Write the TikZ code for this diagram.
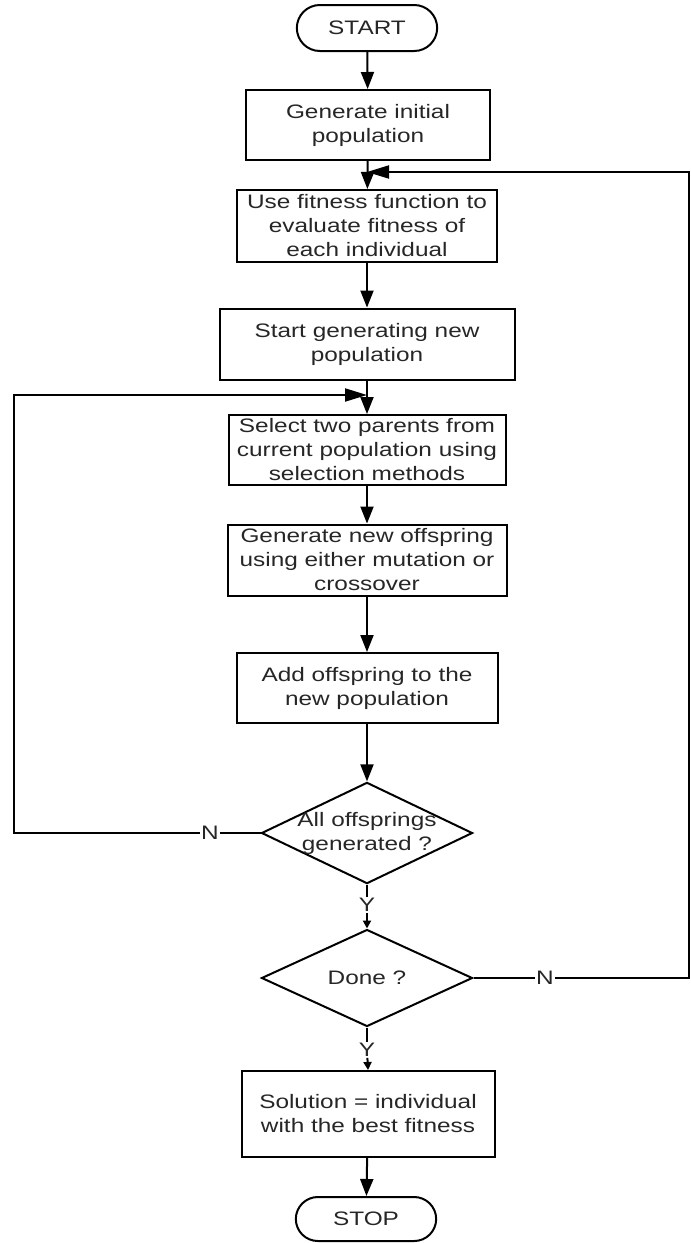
\documentclass[tikz,border=0pt]{standalone}
\usepackage{fontspec}
\setmainfont{Liberation Sans}[FakeStretch=1.25]
\usepackage{tikz}
\usetikzlibrary{shapes.geometric,shapes.misc,arrows.meta}

\tikzset{
    every node/.style={font=\fontsize{19.5}{24}\selectfont, text=black!85},
    stepbox/.style={draw, line width=2pt, rectangle, align=center, inner sep=2pt},
    terminal/.style={draw, line width=2pt, rounded rectangle,
        minimum width=147pt, minimum height=46pt},
    decision/.style={draw, line width=2pt, diamond, align=center,
        inner sep=-20pt, minimum width=211pt, minimum height=100pt},
    arr/.style={line width=2pt, -{Triangle[length=17pt,width=13pt]}},
    feedarr/.style={line width=2pt, -{Triangle[length=22pt,width=13pt]}},
    smallarr/.style={line width=2pt, -{Triangle[length=8pt,width=8pt]}},
    plain/.style={line width=2pt},
    yn/.style={inner sep=1pt}
}

\begin{document}
\begin{tikzpicture}[x=1pt, y=-1pt]

\useasboundingbox (0,0) rectangle (691,1243);

    % main column
    \node[terminal] (start) at (367,28) {START};
    \node[stepbox, minimum width=244pt, minimum height=70pt] (gen) at (368,125)
        {Generate initial\\population};
    \node[stepbox, minimum width=260pt, minimum height=72pt] (eval) at (367,226)
        {Use fitness function to\\evaluate fitness of\\each individual};
    \node[stepbox, minimum width=295pt, minimum height=71pt] (newpop) at (367,344)
        {Start generating new\\population};
    \node[stepbox, minimum width=277pt, minimum height=70pt] (select) at (367,450)
        {Select two parents from\\current population using\\selection methods};
    \node[stepbox, minimum width=279pt, minimum height=71pt] (offspring) at (367,560)
        {Generate new offspring\\using either mutation or\\crossover};
    \node[stepbox, minimum width=261pt, minimum height=70pt] (add) at (367,688)
        {Add offspring to the\\new population};
    \node[decision] (allgen) at (367,833) {All offsprings\\generated ?};
    \node[decision, minimum height=97pt] (done) at (367,978) {Done ?};
    \node[stepbox, minimum width=253pt, minimum height=86pt] (sol) at (368,1114)
        {Solution = individual\\with the best fitness};
    \node[terminal, minimum height=44pt] (stop) at (366,1219) {STOP};

    % labels on the branches
    \node[yn] (yall) at (367,905) {Y};
    \node[yn] (ydone) at (367,1050) {Y};
    \node[yn] (nall) at (210,833) {N};
    \node[yn] (ndone) at (545,978) {N};

    % joins and corners of the loops
    \coordinate (jeval) at (367,172);
    \coordinate (jselect) at (367,395);
    \coordinate (cleft) at (14,833);
    \coordinate (cright) at (689,978);

    \draw[arr] (start) -- (gen);
    \draw[arr] (gen) -- (eval);
    \draw[arr] (eval) -- (newpop);
    \draw[arr] (newpop) -- (select);
    \draw[arr] (select) -- (offspring);
    \draw[arr] (offspring) -- (add);
    \draw[arr] (add) -- (allgen);
    \draw[plain] (allgen.south) -- (yall);
    \draw[smallarr] (yall) -- (done.north);
    \draw[plain] (done.south) -- (ydone);
    \draw[smallarr] (ydone) -- (sol.north);
    \draw[arr] (sol) -- (stop);

    % loops back
    \draw[plain] (allgen.west) -- (nall);
    \draw[feedarr] (nall) -- (cleft) |- (jselect);
    \draw[plain] (done.east) -- (ndone);
    \draw[feedarr] (ndone) -- (cright) |- (jeval);

\end{tikzpicture}
\end{document}
